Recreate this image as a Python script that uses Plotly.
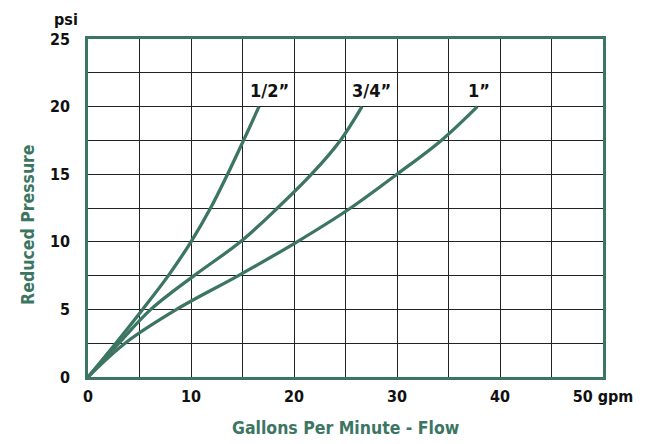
import plotly.graph_objects as go

psi = [0, 2.5, 5, 7.5, 10, 12.5, 15, 17.5, 20]
flow_half = [0, 2.7, 5.3, 7.8, 10.0, 11.9, 13.55, 15.1, 16.6]
flow_three_quarter = [0, 3.0, 6.1, 10.3, 14.8, 18.4, 21.7, 24.5, 26.6]
flow_one = [0, 3.6, 8.6, 14.6, 20.3, 25.5, 30.0, 34.3, 37.8]
series_names = ["1/2\u201d", "3/4\u201d", "1\u201d"]
label_x = [17.6, 27.5, 38.0]
label_y = 21.2

x_tickvals = [0, 5, 10, 15, 20, 25, 30, 35, 40, 45, 50]
x_ticktext = ["0", "", "10", "", "20", "", "30", "", "40", "", "50 gpm"]
y_tickvals = [0, 2.5, 5, 7.5, 10, 12.5, 15, 17.5, 20, 22.5, 25]
y_ticktext = ["0", "", "5", "", "10", "", "15", "", "20", "", "25"]

GREEN = "#3c7663"
FONT = "DejaVu Sans Condensed, Roboto, sans-serif"

fig = go.Figure()
for xs, name in zip([flow_half, flow_three_quarter, flow_one], series_names):
    fig.add_trace(go.Scatter(x=xs, y=psi, mode="lines", name=name,
                             line=dict(color=GREEN, width=3.3, shape="spline", smoothing=1.0),
                             showlegend=False, hoverinfo="skip"))

for name, lx in zip(series_names, label_x):
    fig.add_annotation(x=lx, y=label_y, text="<b>%s</b>" % name, showarrow=False,
                       font=dict(family=FONT, size=18, color="#111"))

fig.add_annotation(xref="paper", yref="paper", x=-0.043, y=1.0, yshift=20,
                   xanchor="center", yanchor="middle",
                   text="<b>psi</b>", showarrow=False, font=dict(family=FONT, size=16, color="#111"))

fig.add_annotation(xref="paper", yref="paper", x=-0.1165, y=0.45,
                   xanchor="center", yanchor="middle", textangle=-90,
                   text="<b>Reduced Pressure</b>", showarrow=False,
                   font=dict(family=FONT, size=17.5, color=GREEN))

fig.add_annotation(xref="paper", yref="paper", x=0.5, y=-0.151,
                   xanchor="center", yanchor="middle",
                   text="<b>Gallons Per Minute - Flow</b>", showarrow=False,
                   font=dict(family=FONT, size=17.5, color=GREEN))

fig.update_layout(
    width=646, height=444,
    margin=dict(l=88, r=43, t=39, b=67, autoexpand=False),
    paper_bgcolor="white", plot_bgcolor="white",
    font=dict(family=FONT, color="#111"),
    xaxis=dict(range=[0, 50], tickvals=x_tickvals, ticktext=x_ticktext,
               showgrid=True, gridcolor="#222", gridwidth=1, zeroline=False,
               showline=True, linecolor=GREEN, linewidth=2.5, mirror=True,
               ticks="", ticklabelstandoff=3, automargin=False,
               tickfont=dict(family=FONT, size=16, color="#111", weight="bold")),
    yaxis=dict(range=[0, 25], tickvals=y_tickvals, ticktext=y_ticktext,
               showgrid=True, gridcolor="#222", gridwidth=1, zeroline=False,
               showline=True, linecolor=GREEN, linewidth=2.5, mirror=True,
               ticks="", ticklabelstandoff=12, automargin=False,
               tickfont=dict(family=FONT, size=16, color="#111", weight="bold")),
)

fig.write_html("out.html", config={"displayModeBar": False},
               post_script="document.body.style.margin='0px';")
